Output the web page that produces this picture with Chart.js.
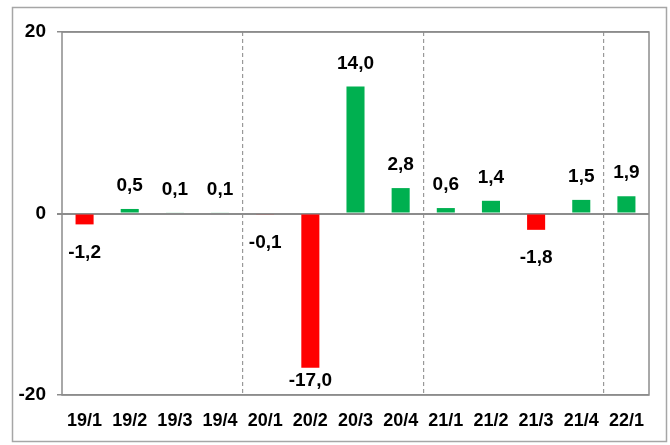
<!DOCTYPE html>
<html>
<head>
<meta charset="utf-8">
<script src="https://cdn.jsdelivr.net/npm/chart.js@4/dist/chart.umd.min.js"></script>
<style>
  html, body { margin: 0; padding: 0; background: #fff; }
  #wrap { width: 670px; height: 445px; }
</style>
</head>
<body>
<div id="wrap"><canvas id="barChart" width="670" height="445"></canvas></div>
<script>
// Quarterly change
const quarters = ['19/1', '19/2', '19/3', '19/4', '20/1', '20/2', '20/3', '20/4', '21/1', '21/2', '21/3', '21/4', '22/1'];
const changes = [-1.2, 0.5, 0.1, 0.1, -0.1, -17.0, 14.0, 2.8, 0.6, 1.4, -1.8, 1.5, 1.9];
const yTicks = [-20, 0, 20];
const yearStarts = [4, 8, 12];

const GRAY = '#8c8c8c';
const RED = '#ff0000';
const GREEN = '#00b050';

// outer frame + plot box
const frame = {
    id: 'frame',
    beforeDraw(chart) {
        const ctx = chart.ctx;
        ctx.save();
        ctx.strokeStyle = '#a6a6a6';
        ctx.lineWidth = 1.5;
        ctx.strokeRect(12.5, 7.5, 654, 434);
        ctx.restore();
    },
    afterDraw(chart) {
        const a = chart.chartArea;
        const ctx = chart.ctx;
        ctx.save();
        ctx.strokeStyle = GRAY;
        ctx.lineWidth = 1.5;
        ctx.strokeRect(a.left, a.top, a.right - a.left, a.bottom - a.top);
        ctx.restore();
    }
};

// value labels
const valueLabels = {
    id: 'valueLabels',
    afterDatasetsDraw(chart) {
        const ctx = chart.ctx;
        const a = chart.chartArea;
        const meta = chart.getDatasetMeta(0);
        ctx.save();
        ctx.font = 'bold 19px "Liberation Sans", Arial, sans-serif';
        ctx.fillStyle = '#000';
        ctx.textAlign = 'center';
        ctx.textBaseline = 'middle';
        meta.data.forEach((bar, i) => {
            const v = changes[i];
            let y = v >= 0 ? bar.y - 23 : bar.y + 28;
            if (y > a.bottom - 14) y = a.bottom - 14;
            ctx.fillText(v.toFixed(1).replace('.', ','), bar.x, y);
        });
        ctx.restore();
    }
};

new Chart(document.getElementById('barChart'), {
    type: 'bar',
    data: {
        labels: quarters,
        datasets: [{
            data: changes,
            backgroundColor: changes.map(v => v < 0 ? RED : GREEN),
            borderWidth: 0,
            categoryPercentage: 1,
            barPercentage: 0.4
        }]
    },
    options: {
        responsive: false,
        animation: false,
        layout: { padding: { left: 0, top: 32, right: 21, bottom: 0 } },
        plugins: { legend: { display: false }, tooltip: { enabled: false } },
        scales: {
            x: {
                afterFit: s => { s.height = 50; },
                grid: {
                    offset: true,
                    drawTicks: false,
                    color: c => yearStarts.includes(c.index) ? '#999999' : 'rgba(0,0,0,0)',
                    lineWidth: 1.2
                },
                border: { display: false, dash: [4, 3] },
                ticks: {
                    color: '#000',
                    padding: 15,
                    maxRotation: 0,
                    autoSkip: false,
                    font: { family: '"Liberation Sans Narrow", "Liberation Sans", Arial', size: 18, weight: 'bold' }
                }
            },
            y: {
                min: -20,
                max: 20,
                afterFit: s => { s.width = 62; },
                afterBuildTicks: s => { s.ticks = yTicks.map(v => ({ value: v })); },
                grid: {
                    color: GRAY,
                    lineWidth: c => c.tick && c.tick.value === 0 ? 2 : 1.5,
                    tickLength: 5,
                    tickColor: GRAY
                },
                border: { display: false },
                ticks: {
                    color: '#000',
                    padding: 11,
                    font: { family: '"Liberation Sans", Arial', size: 19, weight: 'bold' }
                }
            }
        }
    },
    plugins: [frame, valueLabels]
});
</script>
</body>
</html>
